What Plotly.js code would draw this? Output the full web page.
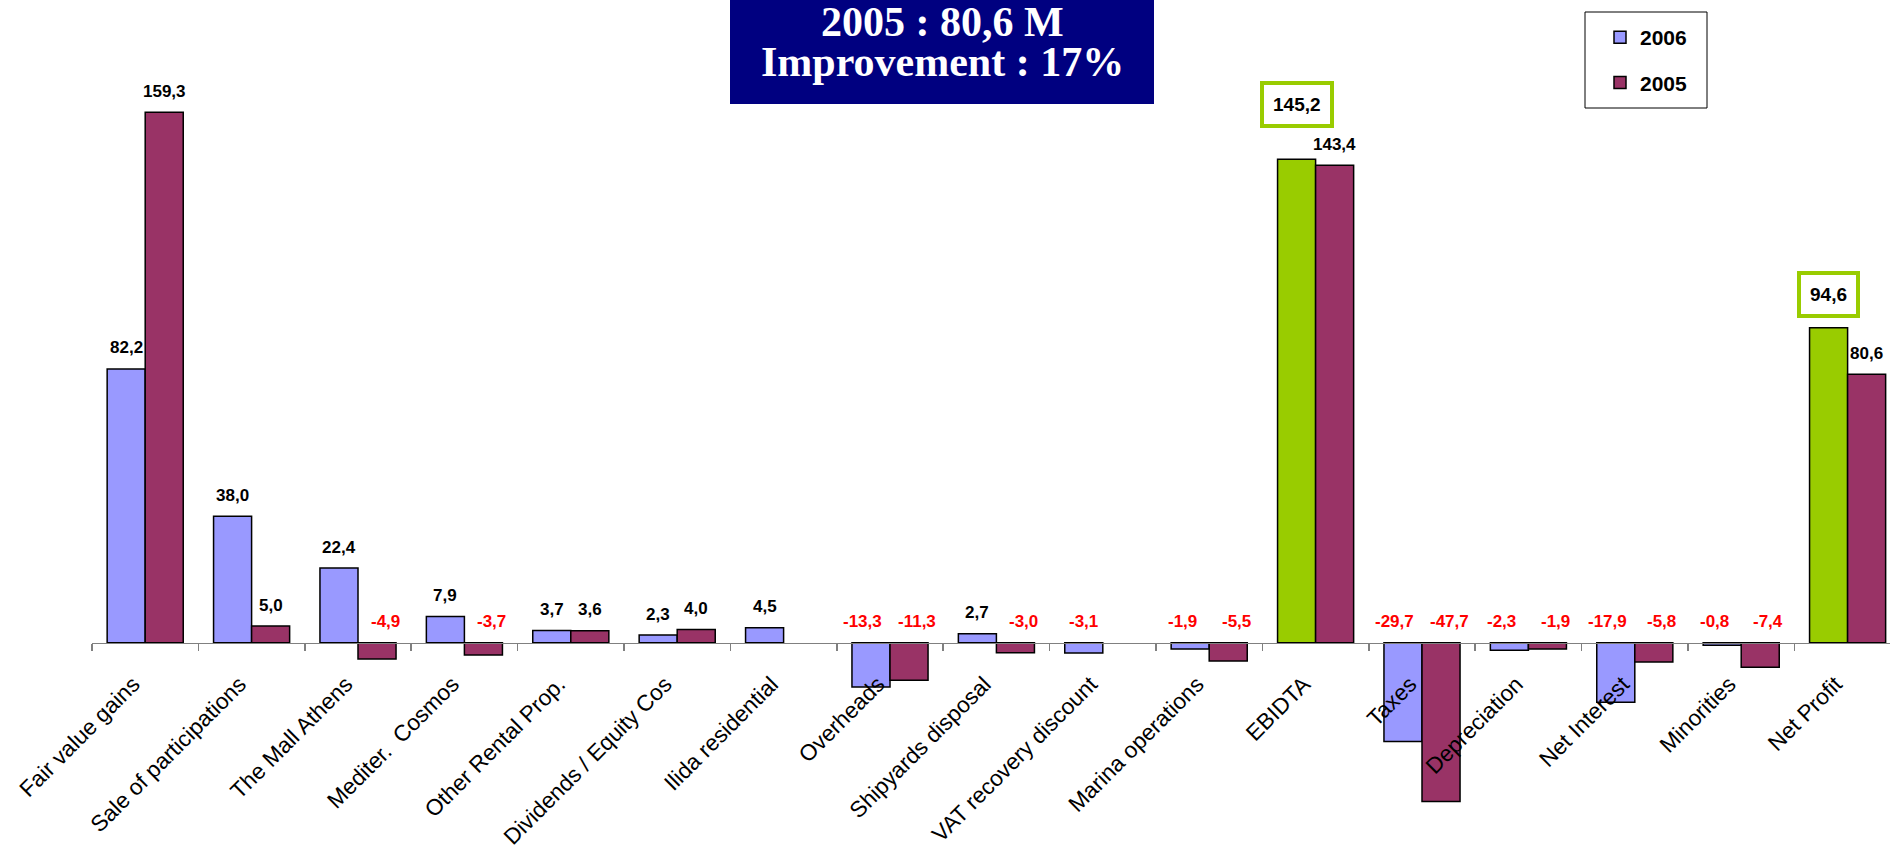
<!DOCTYPE html>
<html>
<head>
<meta charset="utf-8">
<script src="https://cdn.plot.ly/plotly-3.0.1.min.js"></script>
<style>
  html, body { margin: 0; padding: 0; background: #ffffff; }
  #chart { width: 1890px; height: 848px; }
</style>
</head>
<body>
<div id="chart"></div>
<script>
// ---------------- DATA ----------------
const categories = [
  "Fair value gains", "Sale of participations", "The Mall Athens", "Mediter.\u00a0 Cosmos",
  "Other Rental Prop.", "Dividends / Equity Cos", "Ilida residential", "Overheads",
  "Shipyards disposal", "VAT recovery discount", "Marina operations", "EBIDTA",
  "Taxes", "Depreciation", "Net Interest", "Minorities", "Net Profit"
];
const values2006 = [82.2, 38.0, 22.4, 7.9, 3.7, 2.3, 4.5, -13.3, 2.7, -3.1, -1.9, 145.2, -29.7, -2.3, -17.9, -0.8, 94.6];
const values2005 = [159.3, 5.0, -4.9, -3.7, 3.6, 4.0, null, -11.3, -3.0, null, -5.5, 143.4, -47.7, -1.9, -5.8, -7.4, 80.6];
const seriesNames = ["2006", "2005"];
const highlighted = ["EBIDTA", "Net Profit"];   // totals shown in green with boxed label
const titleLines = ["2005 : 80,6 M", "Improvement : 17%"];

// ---------------- STYLE / LAYOUT ----------------
const W = 1890, H = 848;
const M = { l: 92, r: 0, t: 0, b: 0 };
const catPx = 106.4;                 // pixel width of one category
const zeroPx = 642.7, unitPx = 3.33; // zero line position and px per unit
const COL2006 = "#9999FF", COL2005 = "#993366", COLHI = "#99CC00";
const bargap = 0.285;
const boxShift = { "EBIDTA": 55, "Net Profit": 33 };

const plotW = W - M.l - M.r, plotH = H - M.t - M.b;
const xp = px => (px - M.l) / plotW;
const yp = py => 1 - (py - M.t) / plotH;
const yMax = (zeroPx - M.t) / unitPx;
const yMin = -(H - M.b - zeroPx) / unitPx;

const fmt = v => v.toFixed(1).replace(".", ",");

const colors2006 = categories.map(c => highlighted.includes(c) ? COLHI : COL2006);

const traces = [
  {
    type: "bar", name: seriesNames[0], x: categories, y: values2006,
    marker: { color: colors2006, line: { color: "#000000", width: 1.5 } },
    legendgroup: "a", hoverinfo: "none"
  },
  {
    type: "bar", name: seriesNames[1], x: categories, y: values2005,
    marker: { color: COL2005, line: { color: "#000000", width: 1.5 } },
    legendgroup: "b", hoverinfo: "none"
  }
];

// data labels
const barW = (1 - bargap) / 2;
const annotations = [];
const LABEL_FONT = "Arial, Liberation Sans, sans-serif";
[values2006, values2005].forEach((vals, s) => {
  const other = s === 0 ? values2005 : values2006;
  vals.forEach((v, i) => {
    if (v === null || v === undefined) return;
    const xc = i + (s === 0 ? -barW / 2 : barW / 2);
    const hi = s === 0 && highlighted.includes(categories[i]);
    if (hi) {
      annotations.push({
        x: xc, y: v, xref: "x", yref: "y", showarrow: false,
        yanchor: "middle", yshift: boxShift[categories[i]],
        text: "<b>" + fmt(v) + "</b>",
        font: { family: LABEL_FONT, size: 19, color: "#000000" },
        bordercolor: COLHI, borderwidth: 4, borderpad: 9, bgcolor: "#ffffff"
      });
    } else {
      let xs = 0;
      if (v < 0) {
        if (s === 1) xs = 8;
        else if (other[i] !== null && other[i] < 0) xs = -8;
      }
      annotations.push({
        x: xc, y: v > 0 ? v : 0, xref: "x", yref: "y", showarrow: false,
        yanchor: "middle", yshift: 21, xshift: xs,
        text: "<b>" + fmt(v) + "</b>",
        font: { family: LABEL_FONT, size: 17, color: v < 0 ? "#FF0000" : "#000000" }
      });
    }
  });
});

// title box text
[[titleLines[0], 22], [titleLines[1], 62]].forEach(([t, py]) => {
  annotations.push({
    xref: "paper", yref: "paper", x: xp(942), y: yp(py), xanchor: "center", yanchor: "middle",
    showarrow: false, text: "<b>" + t + "</b>",
    font: { family: "Liberation Serif, Times New Roman, serif", size: 42, color: "#ffffff" }
  });
});

const shapes = [
  { type: "rect", xref: "paper", yref: "paper", layer: "below",
    x0: xp(730), x1: xp(1154), y0: yp(104), y1: yp(-20),
    fillcolor: "#000080", line: { width: 0 } },
  { type: "rect", xref: "paper", yref: "paper",
    x0: xp(1585), x1: xp(1707), y0: yp(108), y1: yp(12),
    fillcolor: "rgba(0,0,0,0)", line: { color: "#000000", width: 1 } }
];

const layout = {
  width: W, height: H,
  margin: M,
  paper_bgcolor: "#ffffff", plot_bgcolor: "#ffffff",
  barmode: "group", bargap: bargap, bargroupgap: 0,
  showlegend: true,
  legend: {
    x: xp(1600), y: yp(17), xanchor: "left", yanchor: "top",
    bgcolor: "rgba(0,0,0,0)", borderwidth: 0,
    font: { family: LABEL_FONT, size: 21, color: "#000000", weight: "bold" },
    tracegroupgap: 15, traceorder: "grouped"
  },
  xaxis: {
    type: "category", range: [-0.5, -0.5 + plotW / catPx],
    anchor: "free", position: (-yMin) / (yMax - yMin),
    showline: true, linecolor: "#808080", linewidth: 1.5,
    ticks: "outside", tickson: "boundaries", ticklen: 7, tickcolor: "#808080", tickwidth: 1.5,
    tickangle: -45, ticklabelstandoff: 18, ticklabelshift: -12,
    tickfont: { family: LABEL_FONT, size: 22.5, color: "#000000" },
    showgrid: false, zeroline: false, fixedrange: true
  },
  yaxis: {
    range: [yMin, yMax], visible: false, showgrid: false, zeroline: false, fixedrange: true
  },
  annotations: annotations,
  shapes: shapes
};

Plotly.newPlot("chart", traces, layout, { displayModeBar: false, staticPlot: true });
</script>
</body>
</html>
